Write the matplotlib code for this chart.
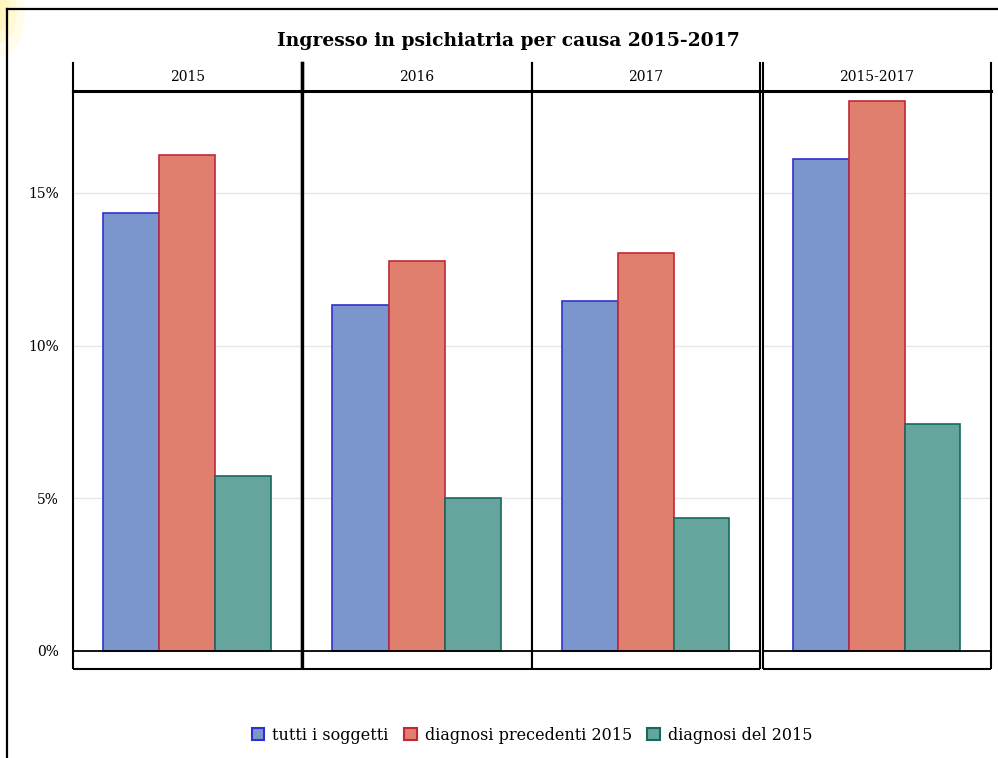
import matplotlib
matplotlib.use("Agg")
import matplotlib.pyplot as plt
from matplotlib.patches import Patch, Ellipse
from matplotlib.lines import Line2D

panels = ["2015", "2016", "2017", "2015-2017"]
series = ["tutti i soggetti", "diagnosi precedenti 2015", "diagnosi del 2015"]
tutti = [14.34, 11.33, 11.46, 16.11]
precedenti = [16.24, 12.77, 13.03, 18.01]
del2015 = [5.73, 5.01, 4.35, 7.43]
yticks = [0, 5, 10, 15]
ytick_labels = ["0%", "5%", "10%", "15%"]
title = "Ingresso in psichiatria per causa 2015-2017"

fills = ["#7B96CC", "#E07F6E", "#66A59E"]
edges = ["#3030D0", "#C0283A", "#17695E"]

W, H = 998, 758
fig = plt.figure(figsize=(W / 100, H / 100), dpi=100)
plt.rcParams['font.family'] = ['DejaVu Serif', 'Liberation Serif']

def fx(px):
    return px / W

def fy(py):
    return 1 - py / H

# faint yellow glow in the top-left corner
for r, a in [(50, 0.2), (34, 0.3), (20, 0.4)]:
    fig.add_artist(Ellipse((fx(0), fy(12)), fx(r), r / H * 1.8, transform=fig.transFigure,
                           facecolor="#FFF3A0", edgecolor="none", alpha=a))

# outer frame (left and top only visible)
fig.add_artist(Line2D([fx(7), fx(7)], [fy(9), 0], color="black", lw=1.6, transform=fig.transFigure))
fig.add_artist(Line2D([fx(7), 1], [fy(9), fy(9)], color="black", lw=1.6, transform=fig.transFigure))

panel_x = [(73, 302), (302, 532), (532, 760), (763, 991)]
ytop, ybot, yhead = 91, 669, 63
ymin = -(669 - 651) / 30.54
ymax = (651 - 91) / 30.54

data = [tutti, precedenti, del2015]
for i, (x0, x1) in enumerate(panel_x):
    ax = fig.add_axes([fx(x0), fy(ybot), fx(x1 - x0), (ybot - ytop) / H])
    for j in range(3):
        ax.bar(j, data[j][i], width=1.0, color=fills[j], edgecolor=edges[j], linewidth=1.2, zorder=3)
    ax.set_xlim(-1.04, 3.05)
    ax.set_ylim(ymin, ymax)
    ax.set_yticks(yticks)
    ax.grid(axis="y", color="#E6E6E6", lw=1.0, zorder=0)
    ax.axhline(0, color="black", lw=1.3, zorder=4)
    ax.set_xticks([])
    ax.tick_params(axis="y", length=0, pad=10)
    if i == 0:
        ax.set_yticklabels(ytick_labels, fontsize=10)
    else:
        ax.set_yticklabels([])
    for s in ["left", "right", "bottom"]:
        ax.spines[s].set_linewidth(1.5)
        ax.spines[s].set_color("black")
        ax.spines[s].set_capstyle("butt")
    ax.spines["top"].set_linewidth(2.2)
    if i == 0:
        ax.spines["right"].set_linewidth(2.4)
    if i == 1:
        ax.spines["left"].set_linewidth(2.4)
    # header strip
    hx = fig.add_axes([fx(x0), fy(ytop), fx(x1 - x0), (ytop - yhead) / H])
    hx.set_xticks([]); hx.set_yticks([])
    hx.spines["top"].set_visible(False)
    hx.spines["bottom"].set_visible(False)
    for s in ["left", "right"]:
        hx.spines[s].set_linewidth(1.5)
    if i == 0:
        hx.spines["right"].set_linewidth(2.4)
    if i == 1:
        hx.spines["left"].set_linewidth(2.4)
    hx.patch.set_alpha(0)
    hx.text(0.5, 0.5, panels[i], ha="center", va="center", fontsize=10, transform=hx.transAxes)

fig.text(fx(508), fy(41), title, ha="center", va="center", fontsize=13.5, fontweight="bold")

handles = [Patch(facecolor=fills[j], edgecolor=edges[j], linewidth=1.5) for j in range(3)]
fig.legend(handles, series, loc="center", bbox_to_anchor=(fx(532), fy(735)), ncol=3,
           frameon=False, fontsize=11.5, handlelength=0.8, handleheight=0.8,
           handletextpad=0.5, columnspacing=0.95)

fig.savefig("out.png", dpi=100)
